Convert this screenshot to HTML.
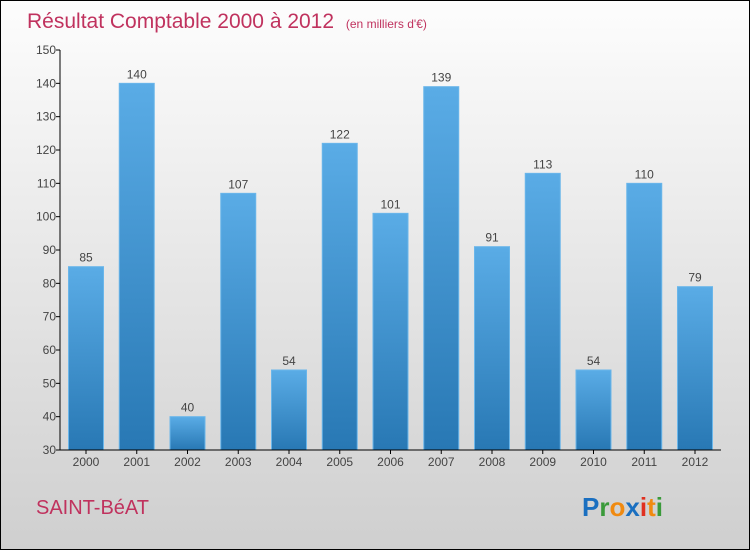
<!DOCTYPE html>
<html><head><meta charset="utf-8"><style>
body{margin:0;width:750px;height:550px;overflow:hidden}
svg{display:block;font-family:"Liberation Sans",sans-serif}
</style></head><body>
<svg width="750" height="550">
<defs>
<linearGradient id="bg" x1="0" y1="0" x2="0" y2="1"><stop offset="0" stop-color="#fdfdfd"/><stop offset="1" stop-color="#cfcfcf"/></linearGradient>
<linearGradient id="bar" x1="0" y1="0" x2="0" y2="1"><stop offset="0" stop-color="#5aace6"/><stop offset="1" stop-color="#2878b4"/></linearGradient>
</defs>
<rect x="0.5" y="0.5" width="749" height="549" fill="url(#bg)" stroke="#000"/>
<text x="27" y="28" font-size="21" fill="#c0325e">Résultat Comptable 2000 à 2012 <tspan font-size="12" dx="6">(en milliers d'€)</tspan></text>
<g id="yaxis"></g>
<g id="bars"></g>
<g id="xaxis"></g>
<text x="36" y="514" font-size="20" fill="#c0325e">SAINT-BéAT</text>
<text x="582" y="516" font-size="26" font-weight="bold"><tspan fill="#1a6fc0">P</tspan><tspan fill="#3a9a3a">r</tspan><tspan fill="#f08a10">o</tspan><tspan fill="#1a6fc0">x</tspan><tspan fill="#e03020">i</tspan><tspan fill="#f08a10">t</tspan><tspan fill="#3a9a3a">i</tspan></text>
</svg>
<script>
const years=["2000","2001","2002","2003","2004","2005","2006","2007","2008","2009","2010","2011","2012"];
const values=[85,140,40,107,54,122,101,139,91,113,54,110,79];
const yTicks=[30,40,50,60,70,80,90,100,110,120,130,140,150];
const NS="http://www.w3.org/2000/svg";
const yMin=30,yMax=150,y0=450,y1=50;
function y(v){return y0-(v-yMin)/(yMax-yMin)*(y0-y1);}
function xc(i){return 86+i*50.75;}
function mk(tag,attrs,parent,text){const e=document.createElementNS(NS,tag);for(const k in attrs)e.setAttribute(k,attrs[k]);if(text!==undefined)e.textContent=text;parent.appendChild(e);return e;}
const ya=document.getElementById('yaxis'),ba=document.getElementById('bars'),xa=document.getElementById('xaxis');
mk('line',{x1:60,y1:y1,x2:60,y2:y0,stroke:'#000'},ya);
yTicks.forEach(t=>{
 const l=mk('line',{x1:56,x2:60,y1:y(t),y2:y(t),stroke:'#000'},ya);
 
 
 const tx=mk('text',{x:56,y:y(t)+4,'font-size':12,'text-anchor':'end',fill:'#444'},ya,String(t));
 
 
});
values.forEach((v,i)=>{
 const r=mk('rect',{x:xc(i)-17.5,y:y(v),width:35,height:y0-y(v),fill:'url(#bar)',stroke:'#6ab6ea','stroke-width':1},ba);
 
 
 const t=mk('text',{x:xc(i),y:y(v)-5,'font-size':12,'text-anchor':'middle',fill:'#444'},ba,String(v));
 
 
});
mk('line',{x1:60,y1:y0,x2:721,y2:y0,stroke:'#000'},xa);
years.forEach((yr,i)=>{
 mk('line',{x1:xc(i),x2:xc(i),y1:y0,y2:y0+4,stroke:'#000'},xa);
 const t=mk('text',{x:xc(i),y:y0+16,'font-size':12,'text-anchor':'middle',fill:'#444'},xa,yr);
 
 
});
</script>
</body></html>
